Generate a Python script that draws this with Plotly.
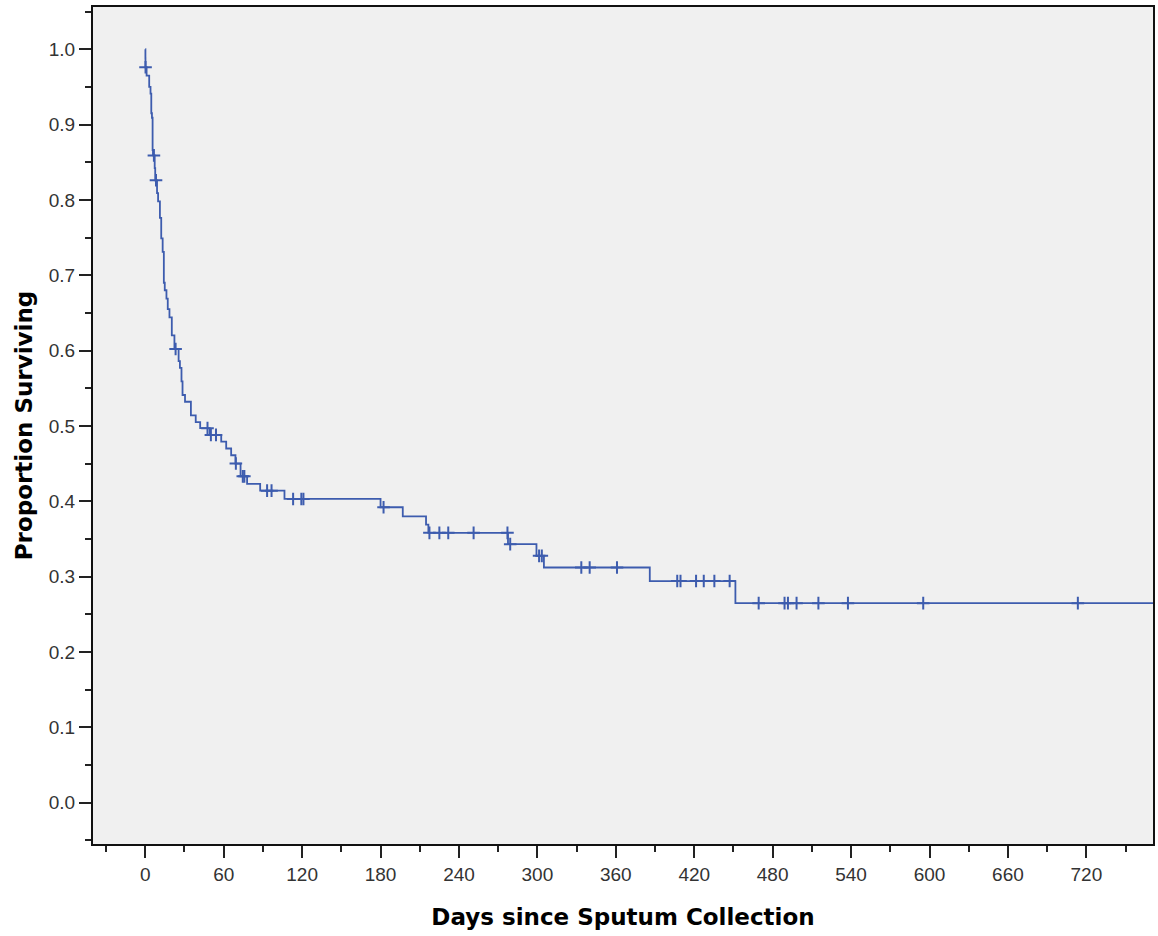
import numpy as np
import plotly.graph_objects as go

# Kaplan-Meier step curve (days, proportion surviving after the step)
event_days = [0, 0.1, 0.15, 1.0, 3.0, 4.0, 4.6, 5.1, 5.6, 5.9, 7.2, 7.6, 9.0, 9.8,
              11.2, 12.2, 13.3, 14.2, 14.9, 16.2, 17.2, 18.5, 20.3, 22.3, 25.5,
              26.5, 27.7, 28.5, 30.4, 34.9, 38.6, 42.0, 49.3, 58.1, 61.9, 65.7,
              69.0, 72.9, 77.9, 87.9, 106.5, 180.0, 197.0, 214.8, 216.6, 277.5,
              299.3, 305.0, 386.0, 451.5, 780.0]
event_surv = [1.0, 0.988, 0.976, 0.965, 0.950, 0.941, 0.915, 0.909, 0.866, 0.859,
              0.842, 0.826, 0.809, 0.798, 0.776, 0.749, 0.731, 0.690, 0.680, 0.669,
              0.655, 0.644, 0.620, 0.602, 0.586, 0.577, 0.559, 0.541, 0.532, 0.514,
              0.505, 0.497, 0.488, 0.479, 0.470, 0.461, 0.450, 0.433, 0.423, 0.414,
              0.403, 0.392, 0.380, 0.369, 0.358, 0.343, 0.3275, 0.312, 0.294,
              0.2647, 0.2647]

# Censored observations (days)
censor_days = [0.2, 6.6, 8.2, 23.2, 47.6, 50.2, 54.1, 69.3, 74.6, 75.8, 93.2, 96.6,
               113.1, 119.4, 121.0, 182.3, 217.4, 225.0, 231.8, 251.2, 277.1, 279.2,
               301.3, 303.4, 333.6, 340.0, 360.9, 407.0, 409.5, 421.4, 427.3, 435.4,
               447.1, 469.3, 489.1, 491.7, 498.3, 515.0, 537.6, 595.2, 713.5]

x_ticks = [0, 60, 120, 180, 240, 300, 360, 420, 480, 540, 600, 660, 720]
y_ticks = [0.0, 0.1, 0.2, 0.3, 0.4, 0.5, 0.6, 0.7, 0.8, 0.9, 1.0]

ev_d = np.array(event_days)
ev_s = np.array(event_surv)
idx = np.searchsorted(ev_d, np.array(censor_days), side="right") - 1
censor_surv = ev_s[idx]

COL = "#3d5cae"

fig = go.Figure()
fig.add_trace(go.Scatter(
    x=event_days, y=event_surv, mode="lines",
    line=dict(color=COL, width=1.8, shape="hv"),
    hoverinfo="skip", showlegend=False))
fig.add_trace(go.Scatter(
    x=censor_days, y=censor_surv, mode="markers",
    marker=dict(symbol="cross-thin", size=9, color=COL,
                line=dict(color=COL, width=2)),
    showlegend=False))

tickfont = dict(family="Liberation Sans, Arial, sans-serif", size=19, color="#333333")
titlefont = dict(family="DejaVu Sans, sans-serif", size=23, color="#000000")

fig.update_layout(
    width=1158, height=936,
    margin=dict(l=93, r=3, t=7, b=92),
    paper_bgcolor="white", plot_bgcolor="#f0f0f0",
    xaxis=dict(
        range=[-40, 771], tickmode="array", tickvals=x_ticks,
        ticktext=[str(v) for v in x_ticks],
        showgrid=False, zeroline=False,
        showline=True, linecolor="#111111", linewidth=2, mirror=True,
        ticks="outside", ticklen=12, tickwidth=2, tickcolor="#222222",
        tickfont=tickfont,
        minor=dict(dtick=30, tick0=0, ticks="outside", ticklen=6, tickwidth=2,
                   tickcolor="#222222", showgrid=False),
        title=dict(text="<b>Days since Sputum Collection</b>", font=titlefont, standoff=25),
    ),
    yaxis=dict(
        range=[-0.055, 1.056], tickmode="array", tickvals=y_ticks,
        ticktext=[f"{v:.1f}" for v in y_ticks],
        showgrid=False, zeroline=False,
        showline=True, linecolor="#111111", linewidth=2, mirror=True,
        ticks="outside", ticklen=12, tickwidth=2, tickcolor="#222222",
        tickfont=tickfont,
        minor=dict(dtick=0.05, tick0=0, ticks="outside", ticklen=6, tickwidth=2,
                   tickcolor="#222222", showgrid=False),
        title=dict(text="<b>Proportion Surviving</b>", font=titlefont, standoff=10),
    ),
)

fig.write_html("out.html", config={"displayModeBar": False},
               post_script="document.body.style.margin='0';document.body.style.overflow='hidden';")
